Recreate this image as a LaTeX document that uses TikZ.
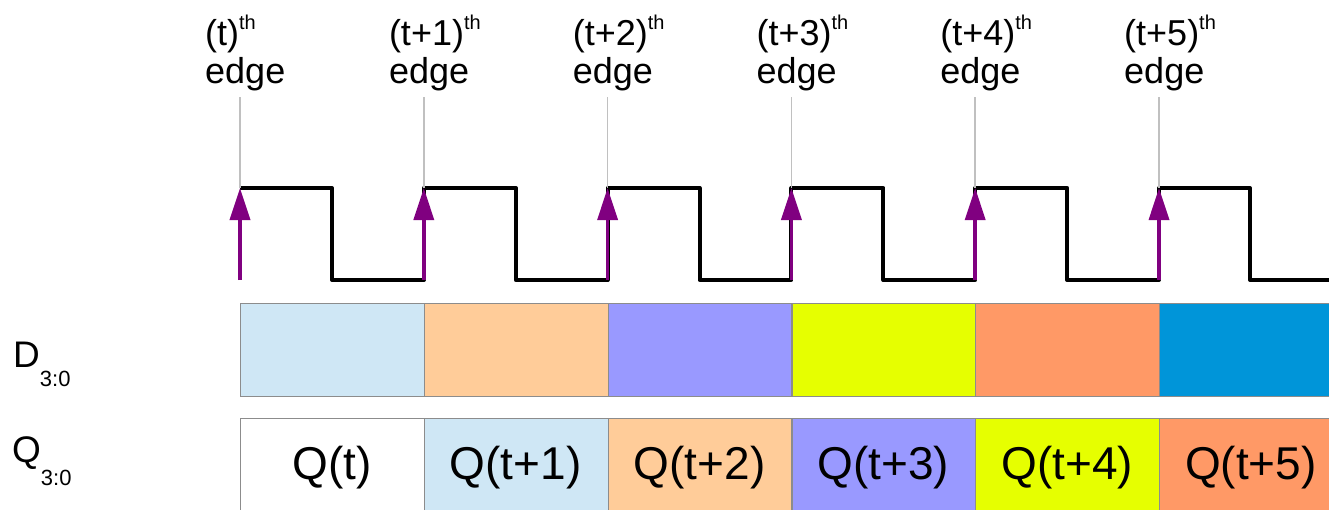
\documentclass[tikz,border=0pt]{standalone}
\usepackage{fontspec}
\setmainfont{Liberation Sans}
\usetikzlibrary{arrows.meta}
\definecolor{c0}{HTML}{FFFFFF}
\definecolor{c1}{HTML}{CFE7F5}
\definecolor{c2}{HTML}{FFCC99}
\definecolor{c3}{HTML}{9999FF}
\definecolor{c4}{HTML}{E6FF00}
\definecolor{c5}{HTML}{FF9966}
\definecolor{c6}{HTML}{0095D9}
\definecolor{edgegray}{HTML}{C0C0C0}
\definecolor{boxgray}{HTML}{8C8C8C}
\definecolor{clkpurple}{HTML}{800080}
\tikzset{
  databox/.style={draw=boxgray, line width=1.2pt, minimum width=183.8pt, minimum height=93pt, inner sep=0pt, anchor=north west},
  edgelabel/.style={anchor=south west, align=left, inner sep=0pt, font=\fontsize{36}{38}\selectfont},
  qtext/.style={anchor=base, inner sep=0pt, font=\fontsize{46}{46}\selectfont},
  sigtext/.style={anchor=base west, inner sep=0pt, font=\fontsize{37}{37}\selectfont},
  clock/.style={line width=4pt, line join=round},
  tick/.style={draw=edgegray, line width=1.5pt},
  riser/.style={draw=clkpurple, line width=3.5pt, -{Triangle[length=32pt,width=20pt]}},
}
\newcommand{\thsup}{\raisebox{16pt}{\fontsize{20}{20}\selectfont th}}
\newcommand{\subidx}[1]{\raisebox{#1}{\fontsize{22}{22}\selectfont 3:0}}
\begin{document}
\begin{tikzpicture}[x=1pt,y=-1pt]
\clip (0,0) rectangle (1329,509);
\fill[white] (0,0) rectangle (1329,509);
% data boxes
\foreach \i/\dc/\qc/\qt in {0/c1/c0/Q(t),1/c2/c1/Q(t+1),2/c3/c2/Q(t+2),3/c4/c3/Q(t+3),4/c5/c4/Q(t+4),5/c6/c5/Q(t+5)}{
  \node[databox, fill=\dc, minimum width={\i==5 ? 220pt : 183.8pt}] (d\i) at ({240+183.8*\i},303) {};
  \node[databox, fill=\qc, minimum width={\i==5 ? 220pt : 183.8pt}] (q\i) at ({240+183.8*\i},418) {};
  \node[qtext] (ql\i) at ({240+183.8*\i+91.9},479) {\qt};
}
% signal names
\node[sigtext] (dname) at (13,367) {D\subidx{-19pt}};
\node[sigtext] (qname) at (12,462) {Q\subidx{-23pt}};
% clock
\draw[clock] (240,188)
  \foreach \i in {0,...,4}{ -- ({332+183.8*\i},188) -- ({332+183.8*\i},280) -- ({423.8+183.8*\i},280) -- ({423.8+183.8*\i},188) }
  -- (1250,188) -- (1250,280) -- (1340,280);
% edges
\foreach \i/\lab in {0/(t),1/(t+1),2/(t+2),3/(t+3),4/(t+4),5/(t+5)}{
  \node[edgelabel] (e\i) at ({240+183.8*\i-35},91) {\lab\thsup\\edge};
  \coordinate (top\i) at ({240+183.8*\i},97);
  \coordinate (hi\i) at ({240+183.8*\i},188);
  \coordinate (lo\i) at ({240+183.8*\i},280);
  \draw[tick] (top\i) -- (hi\i);
  \draw[riser] (lo\i) -- (hi\i);
}
\end{tikzpicture}
\end{document}
